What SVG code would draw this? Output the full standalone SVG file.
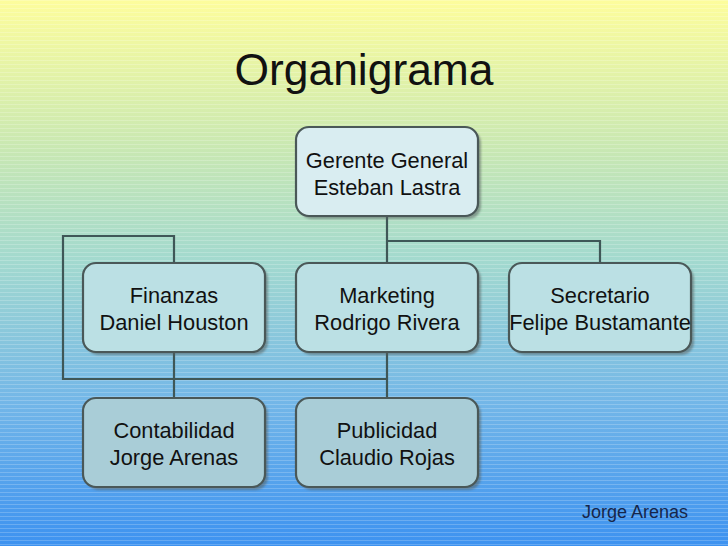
<svg xmlns="http://www.w3.org/2000/svg" width="728" height="546" viewBox="0 0 728 546">
<defs>
<linearGradient id="bg" x1="0" y1="0" x2="0" y2="1">
<stop offset="0" stop-color="#fdfd9c"/>
<stop offset="0.27" stop-color="#c9e8b2"/>
<stop offset="0.48" stop-color="#a2d9cf"/>
<stop offset="0.74" stop-color="#72b6e8"/>
<stop offset="1" stop-color="#3d92f0"/>
</linearGradient>
<pattern id="stripes" width="8" height="4" patternUnits="userSpaceOnUse">
<rect x="0" y="0" width="8" height="1" fill="#ffffff" opacity="0.2"/>
</pattern>
<filter id="sh" x="-10%" y="-10%" width="130%" height="130%">
<feGaussianBlur stdDeviation="1"/>
</filter>
</defs>
<style>
.box{stroke:#4a5858;stroke-width:2.2}
.shadow{fill:#56605f;opacity:0.55}
.t{font-family:"Liberation Sans",Arial,sans-serif;font-size:21.8px;fill:#111;text-anchor:middle}
.c{fill:none;stroke:#3f5757;stroke-width:2.2}
</style>
<rect width="728" height="546" fill="url(#bg)"/>
<rect width="728" height="546" fill="url(#stripes)"/>
<text x="364" y="85" font-family="'Liberation Sans',Arial,sans-serif" font-size="44.4" fill="#111" text-anchor="middle">Organigrama</text>
<g id="connectors">
<path class="c" d="M387 216V263"/>
<path class="c" d="M387 241H600V263"/>
<path class="c" d="M174 263V236H63V379H387"/>
<path class="c" d="M174 352V398"/>
<path class="c" d="M387 352V398"/>
</g>
<g id="gerente">
<rect class="shadow" x="299" y="130" width="182" height="89" rx="13" filter="url(#sh)"/>
<rect class="box" x="296" y="127" width="182" height="89" rx="13" fill="#d9edf1"/>
<text class="t" x="387" y="168">Gerente General</text>
<text class="t" x="387" y="195">Esteban Lastra</text>
</g>
<g id="finanzas">
<rect class="shadow" x="86" y="266" width="182" height="89" rx="13" filter="url(#sh)"/>
<rect class="box" x="83" y="263" width="182" height="89" rx="13" fill="#bbe0e4"/>
<text class="t" x="174" y="303">Finanzas</text>
<text class="t" x="174" y="330">Daniel Houston</text>
</g>
<g id="marketing">
<rect class="shadow" x="299" y="266" width="182" height="89" rx="13" filter="url(#sh)"/>
<rect class="box" x="296" y="263" width="182" height="89" rx="13" fill="#bbe0e4"/>
<text class="t" x="387" y="303">Marketing</text>
<text class="t" x="387" y="330">Rodrigo Rivera</text>
</g>
<g id="secretario">
<rect class="shadow" x="512" y="266" width="182" height="89" rx="13" filter="url(#sh)"/>
<rect class="box" x="509" y="263" width="182" height="89" rx="13" fill="#bbe0e4"/>
<text class="t" x="600" y="303">Secretario</text>
<text class="t" x="600" y="330">Felipe Bustamante</text>
</g>
<g id="contabilidad">
<rect class="shadow" x="86" y="401" width="182" height="89" rx="13" filter="url(#sh)"/>
<rect class="box" x="83" y="398" width="182" height="89" rx="13" fill="#a9cdd7"/>
<text class="t" x="174" y="438">Contabilidad</text>
<text class="t" x="174" y="465">Jorge Arenas</text>
</g>
<g id="publicidad">
<rect class="shadow" x="299" y="401" width="182" height="89" rx="13" filter="url(#sh)"/>
<rect class="box" x="296" y="398" width="182" height="89" rx="13" fill="#a9cdd7"/>
<text class="t" x="387" y="438">Publicidad</text>
<text class="t" x="387" y="465">Claudio Rojas</text>
</g>
<text x="635" y="518" font-family="'Liberation Sans',Arial,sans-serif" font-size="18" fill="#16264a" text-anchor="middle">Jorge Arenas</text>
</svg>
